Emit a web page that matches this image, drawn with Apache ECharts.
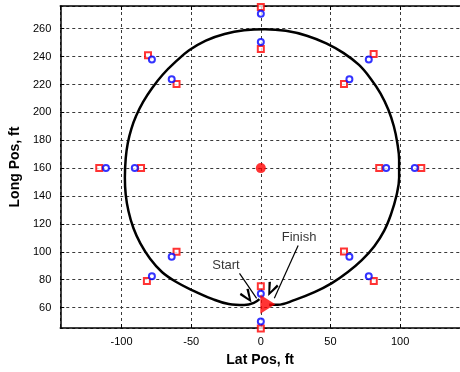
<!DOCTYPE html>
<html>
<head>
<meta charset="utf-8">
<script src="https://cdn.jsdelivr.net/npm/echarts@6/dist/echarts.min.js"></script>
<style>
  html, body { margin: 0; padding: 0; background: #fff; }
  #chart { width: 460px; height: 372px; }
</style>
</head>
<body>
<div id="chart"></div>
<script>
// axis extents (ft)
const latRange = [-144, 143];
const longRange = [45.3, 276.3];
const latStep = 50;
const longStep = 20;

// vehicle path, start -> left side -> top -> right side -> finish
const pathLat = [-1, -5, -12, -23, -35, -49, -61, -71, -79.5, -86.5, -91.5, -95, -97, -97.6, -97, -95.5, -93, -89.5, -84.5, -78, -70.5, -61.5, -51.5, -39.5, -26, -12, 3, 18, 33, 47, 59.5, 70.5, 79, 86, 91.5, 95.5, 98, 99.3, 99.3, 97.3, 93.5, 88.5, 81.5, 72.5, 62.5, 51, 38.5, 24.5, 12, 6];
const pathLong = [66, 63.3, 61.8, 62.5, 66.2, 72.3, 78.5, 85.5, 95, 106, 117, 129, 141, 153, 167, 178, 188, 197.5, 207.5, 217.5, 227, 236, 244.5, 251.5, 256.2, 258.9, 259.7, 258.5, 255, 249.5, 242.5, 234, 224, 213.5, 202, 190, 178, 166, 153, 140, 127, 115, 104, 94, 85.5, 77.5, 71, 65.5, 62, 62];

// red squares
const sqLat = [-81, -60.5, -116, -86, 0, 0, 81, 59.7, 85, 115.2, -60.5, -81.8, 59.7, 81.1, 0, 0];
const sqLong = [241, 220.3, 160, 160, 275.5, 245.5, 241.8, 220.3, 160, 160, 100, 79, 100.2, 79, 75.2, 45];

// blue circles
const ciLat = [-78.2, -64, -111.2, -90.5, 0, 0, 77.5, 63.6, 90, 110.5, -64, -78.2, 63.6, 77.5, 0, 0];
const ciLong = [238, 223.8, 160, 160, 270.7, 250.4, 238, 223.8, 160, 160, 96.5, 82.5, 96.5, 82.5, 69.9, 50];

const center = [0, 160];
const finishPos = [5, 62.3];

// annotations: label position, arrow tail, arrow tip
const noteText = ['Start', 'Finish'];
const noteLabel = [[-25, 90.5], [27.5, 110.6]];
const noteTail = [[-15.3, 84.5], [26.8, 104.4]];
const noteTip = [[-3, 66.5], [9.7, 66.7]];

const zip = (a, b) => a.map((v, i) => [v, b[i]]);
const onTick = (step) => (v) => (Math.abs(v / step - Math.round(v / step)) < 1e-6 ? String(v) : '');

const font = 'Arial, "Liberation Sans", Helvetica, sans-serif';
const gridLine = { show: true, lineStyle: { color: '#3a3a3a', type: [3, 3], width: 1 } };
// open arrow head, pointing up (tip at top)
const chevron = 'path://M0,0 L5,12 L3,13 L0,4.5 L-3,13 L-5,12 Z';

const chart = echarts.init(document.getElementById('chart'));
chart.setOption({
  animation: false,
  backgroundColor: '#fff',
  grid: { left: 60, right: -4, top: 6, bottom: 40.3, containLabel: false },
  xAxis: [
    {
      type: 'value', min: latRange[0], max: latRange[1], splitNumber: 6,
      name: 'Lat Pos, ft', nameLocation: 'middle', nameGap: 25,
      nameTextStyle: { fontFamily: font, fontWeight: 'bold', fontSize: 14, color: '#000' },
      axisLine: { show: true, onZero: false, lineStyle: { color: '#000', width: 1.5 } },
      axisTick: { show: true, inside: true, length: 4, lineStyle: { color: '#000' } },
      axisLabel: { fontFamily: font, fontSize: 11, color: '#000', margin: 8, formatter: onTick(latStep), showMinLabel: false, showMaxLabel: false },
      splitLine: gridLine
    },
    {
      type: 'value', min: latRange[0], max: latRange[1], splitNumber: 6, position: 'top',
      axisLine: { show: true, onZero: false, lineStyle: { color: '#000', width: 1.5 } },
      axisTick: { show: true, inside: true, length: 4, lineStyle: { color: '#000' } },
      axisLabel: { show: false },
      splitLine: { show: false }
    }
  ],
  yAxis: {
    type: 'value', min: longRange[0], max: longRange[1], splitNumber: 12,
    name: 'Long Pos, ft', nameLocation: 'middle', nameGap: 33,
    nameTextStyle: { fontFamily: font, fontWeight: 'bold', fontSize: 14, color: '#000' },
    axisLine: { show: true, onZero: false, lineStyle: { color: '#000', width: 1.5 } },
    axisTick: { show: true, inside: true, length: 4, lineStyle: { color: '#000' } },
    axisLabel: { fontFamily: font, fontSize: 11, color: '#000', margin: 9, formatter: onTick(longStep), showMinLabel: false, showMaxLabel: false },
    splitLine: gridLine
  },
  series: [
    {
      type: 'line', data: zip(pathLat, pathLong), smooth: 0.4, symbol: 'none',
      lineStyle: { color: '#000', width: 2.5 }, z: 3,
      markLine: {
        silent: true, symbol: ['none', chevron], symbolSize: [11, 14], symbolOffset: [0, 6.5],
        lineStyle: { color: '#000', width: 1.2, type: 'solid' },
        label: { show: false },
        data: noteTail.map((t, i) => [{ coord: t }, { coord: noteTip[i] }])
      }
    },
    {
      type: 'scatter', data: zip(sqLat, sqLong), symbol: 'emptyRect', symbolSize: 6,
      itemStyle: { color: '#ff0000', borderWidth: 1.5 }, clip: false, z: 4
    },
    {
      type: 'scatter', data: zip(ciLat, ciLong), symbol: 'emptyCircle', symbolSize: 6,
      itemStyle: { color: '#0000ff', borderWidth: 1.5 }, clip: false, z: 4
    },
    {
      type: 'scatter', data: [center], symbol: 'circle', symbolSize: 10,
      itemStyle: { color: '#ff0000' }, z: 5
    },
    {
      type: 'scatter', data: [finishPos], symbol: 'triangle', symbolSize: [19, 15], symbolRotate: -90,
      itemStyle: { color: '#ff0000' }, z: 5
    },
    {
      type: 'scatter', symbolSize: 0, silent: true, z: 6,
      data: noteLabel.map((p, i) => ({ value: p, name: noteText[i] })),
      label: { show: true, position: 'inside', formatter: '{b}', fontFamily: font, fontSize: 13, color: '#000' }
    }
  ]
});
</script>
</body>
</html>
